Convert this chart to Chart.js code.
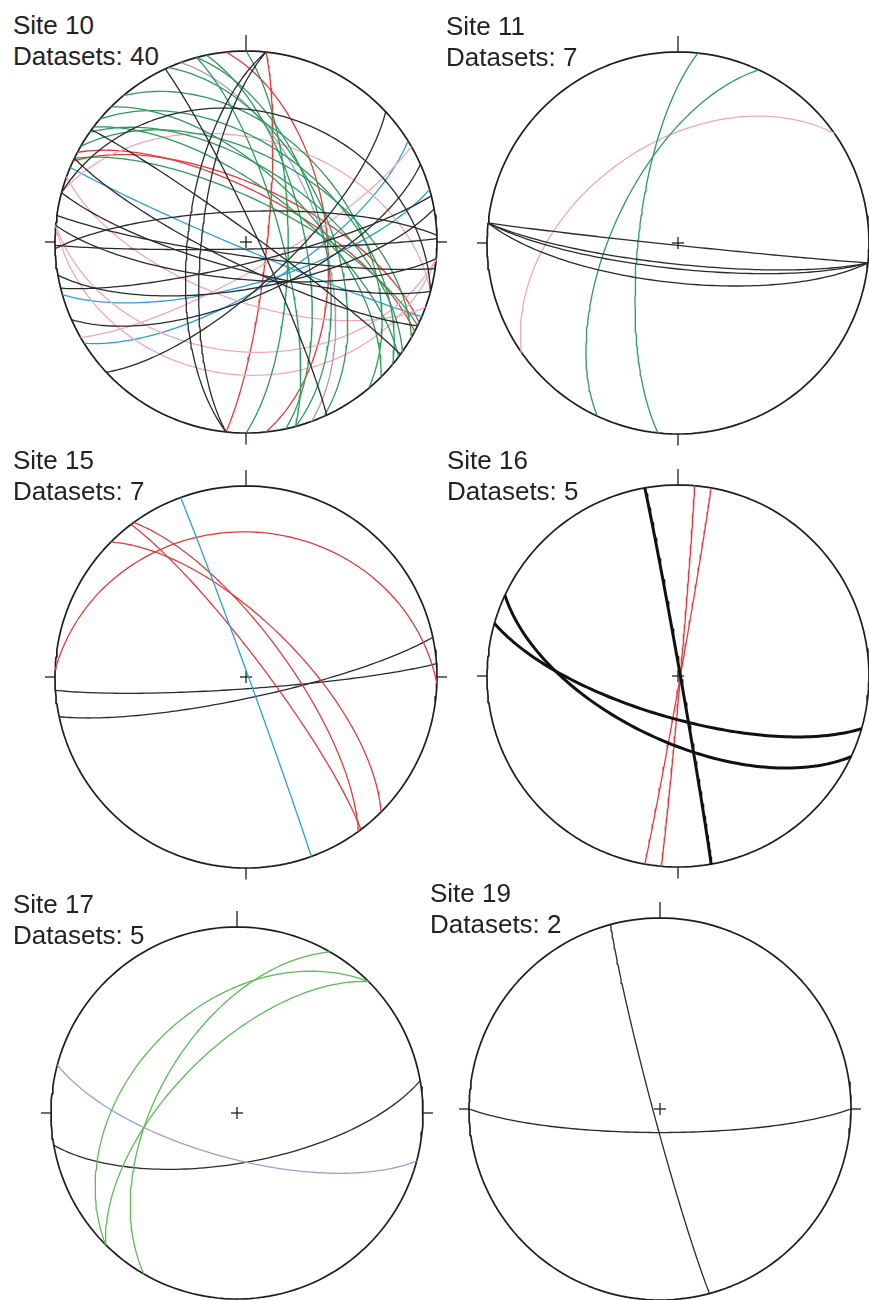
<!DOCTYPE html>
<html>
<head>
<meta charset="utf-8">
<script src="https://cdn.jsdelivr.net/npm/chart.js@4.4.1/dist/chart.umd.min.js"></script>
<style>
  body { margin: 0; background: #fff; width: 869px; height: 1300px; overflow: hidden; position: relative;
         font-family: "Liberation Sans", Arial, sans-serif; }
  .net { position: absolute; }
  .label { position: absolute; font-size: 26px; line-height: 31px; color: #222; white-space: nowrap; }
</style>
</head>
<body>
<script>
// planes per site: dip direction (deg) and dip (deg), lower hemisphere equal-area
const site10DipDir = [276, 276, 65, 36, 195, 188, 185, 179, 170, 166, 156, 137, 15, 206, 358,
                      75, 78, 75, 66, 45, 37, 35, 26, 30, 40, 90, 50,
                      70,
                      185, 185, 150, 15, 200,
                      203, 164, 148,
                      96, 28, 25, 84];
const site10Dip    = [65, 71, 85, 86, 78, 84, 74, 87, 70, 81, 67, 72, 32, 80, 77,
                      75, 65, 57, 54, 62, 67, 59, 72, 53, 50, 72, 45,
                      58,
                      31, 42, 78, 45, 65,
                      87, 72, 70,
                      81, 69, 66, 55];
const site10Color  = ['k','k','k','k','k','k','k','k','k','k','k','k','k','k','k',
                      'g','g','g','g','g','g','g','g','g','g','g','g',
                      'v',
                      'p','p','p','p','p',
                      'b','b','b',
                      'r','r','r','r'];

const site11DipDir = [186, 186, 186, 186, 276, 295, 325];
const site11Dip    = [89, 81, 79, 73, 73, 62, 47];
const site11Color  = ['k','k','k','k','g','g','p'];

const site15DipDir = [70, 2, 53, 54, 45, 176, 168];
const site15Dip    = [89, 25, 82, 72, 67, 85, 81];
const site15Color  = ['b','r','r','r','r','k','k'];

const site16DipDir = [80, 205, 196, 95, 100];
const site16Dip    = [89, 62, 72, 89, 89];
const site16Color  = ['K','K','K','r','r'];

const site17DipDir = [300, 315, 315, 195, 170];
const site17Dip    = [55, 42, 62, 70, 68];
const site17Color  = ['G','G','G','V','k'];

const site19DipDir = [180, 255];
const site19Dip    = [80, 87];
const site19Color  = ['k','k'];

const siteNames = ['Site 10', 'Site 11', 'Site 15', 'Site 16', 'Site 17', 'Site 19'];
const datasetCounts = [40, 7, 7, 5, 5, 2];

const colorMap = {
  k: '#2a2a2a', K: '#111111', g: '#2f9a5c', G: '#5cbb55', r: '#e03c3c',
  p: '#f3a8b6', b: '#2ba0d6', v: '#a99bd0', V: '#9d9fcf'
};

// where each net sits on the page
const panels = [
  { cx: 246, cy: 242, r: 191, tx: 13,  ty: 10,  data: [site10DipDir, site10Dip, site10Color] },
  { cx: 678, cy: 243, r: 191, tx: 446, ty: 11,  data: [site11DipDir, site11Dip, site11Color] },
  { cx: 246, cy: 677, r: 191, tx: 13,  ty: 445, data: [site15DipDir, site15Dip, site15Color] },
  { cx: 678, cy: 676, r: 191, tx: 447, ty: 445, data: [site16DipDir, site16Dip, site16Color] },
  { cx: 237, cy: 1113, r: 186, tx: 13, ty: 889, data: [site17DipDir, site17Dip, site17Color] },
  { cx: 660, cy: 1109, r: 191, tx: 430, ty: 878, data: [site19DipDir, site19Dip, site19Color] }
];

const PAD = 24;
const rad = d => d * Math.PI / 180;

// great circle of a plane, projected (Schmidt net, lower hemisphere)
function greatCircle(dipDir, dip) {
  const s = rad(dipDir - 90), dd = rad(dipDir), dp = rad(dip);
  const S = [Math.cos(s), Math.sin(s), 0];
  const D = [Math.cos(dp) * Math.cos(dd), Math.cos(dp) * Math.sin(dd), Math.sin(dp)];
  const pts = [];
  for (let a = 0; a <= 180; a += 2) {
    const c = Math.cos(rad(a)), sn = Math.sin(rad(a));
    const n = c * S[0] + sn * D[0];
    const e = c * S[1] + sn * D[1];
    const dn = Math.max(0, c * S[2] + sn * D[2]);
    const k = 1 / Math.sqrt(1 + dn);
    pts.push({ x: e * k, y: n * k });
  }
  return pts;
}

function primitive() {
  const pts = [];
  for (let a = 0; a <= 360; a += 2) pts.push({ x: Math.sin(rad(a)), y: Math.cos(rad(a)) });
  return pts;
}

function seg(x1, y1, x2, y2) {
  return [{ x: x1, y: y1 }, { x: x2, y: y2 }];
}

panels.forEach((p, i) => {
  const label = document.createElement('div');
  label.className = 'label';
  label.style.left = p.tx + 'px';
  label.style.top = p.ty + 'px';
  label.innerHTML = siteNames[i] + '<br>Datasets: ' + datasetCounts[i];
  document.body.appendChild(label);

  const size = 2 * (p.r + PAD);
  const canvas = document.createElement('canvas');
  canvas.className = 'net';
  canvas.width = size;
  canvas.height = size;
  canvas.style.width = size + 'px';
  canvas.style.height = size + 'px';
  canvas.style.left = (p.cx - p.r - PAD) + 'px';
  canvas.style.top = (p.cy - p.r - PAD) + 'px';
  document.body.appendChild(canvas);

  const [dirs, dips, cols] = p.data;
  const u = 1 / p.r; // one pixel in data units
  const datasets = [];

  dirs.forEach((dd, j) => {
    const bold = cols[j] === 'K';
    datasets.push({
      data: greatCircle(dd, dips[j]),
      borderColor: colorMap[cols[j]],
      borderWidth: bold ? 3 : 1.3
    });
  });

  const frame = '#1e1e1e';
  datasets.push({ data: primitive(), borderColor: frame, borderWidth: 1.7 });
  datasets.push({ data: seg(0, 1, 0, 1 + 16 * u), borderColor: frame, borderWidth: 1.3 });
  datasets.push({ data: seg(0, -1, 0, -1 - 11 * u), borderColor: frame, borderWidth: 1.3 });
  datasets.push({ data: seg(-1, 0, -1 - 10 * u, 0), borderColor: frame, borderWidth: 1.3 });
  datasets.push({ data: seg(1, 0, 1 + 10 * u, 0), borderColor: frame, borderWidth: 1.3 });
  datasets.push({ data: seg(-6 * u, 0, 6 * u, 0), borderColor: frame, borderWidth: 1.3 });
  datasets.push({ data: seg(0, -6 * u, 0, 6 * u), borderColor: frame, borderWidth: 1.3 });

  const lim = (p.r + PAD) / p.r;
  new Chart(canvas.getContext('2d'), {
    type: 'scatter',
    data: { datasets: datasets.map(d => Object.assign({
      showLine: true, fill: false, pointRadius: 0, tension: 0, clip: false,
      borderJoinStyle: 'round'
    }, d)) },
    options: {
      responsive: false,
      animation: false,
      events: [],
      layout: { padding: 0 },
      scales: {
        x: { type: 'linear', min: -lim, max: lim, display: false },
        y: { type: 'linear', min: -lim, max: lim, display: false }
      },
      plugins: { legend: { display: false }, tooltip: { enabled: false } }
    }
  });
});
</script>
</body>
</html>
